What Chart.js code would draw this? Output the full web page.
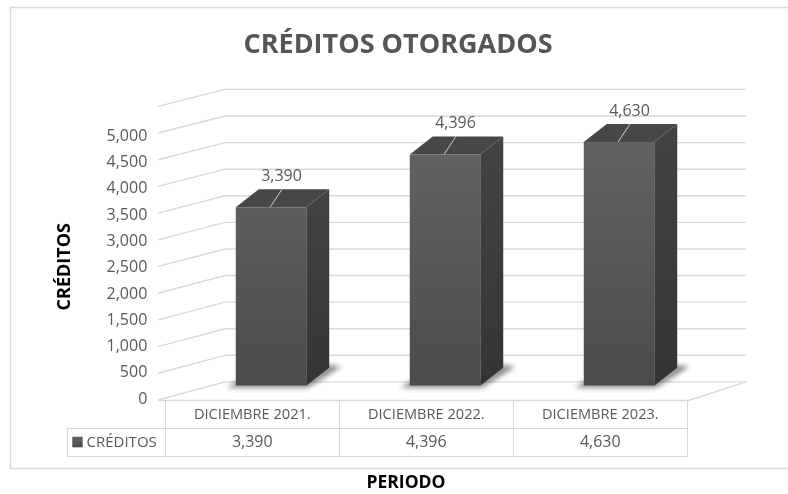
<!DOCTYPE html>
<html>
<head>
<meta charset="utf-8">
<script src="https://cdn.jsdelivr.net/npm/chart.js@4.4.0/dist/chart.umd.min.js"></script>
<style>
html,body{margin:0;padding:0;background:#ffffff;}
#wrap{width:788px;height:494px;position:relative;}
</style>
</head>
<body>
<div id="wrap"><canvas id="c" width="788" height="494"></canvas></div>
<script>
// ---- data ----
const categories = ['DICIEMBRE 2021.', 'DICIEMBRE 2022.', 'DICIEMBRE 2023.'];
const creditos = [3390, 4396, 4630];
const seriesName = 'CRÉDITOS';
const chartTitle = 'CRÉDITOS OTORGADOS';
const yAxisTitle = 'CRÉDITOS';
const xAxisTitle = 'PERIODO';
const yMin = 0, yMax = 5500, yStep = 500, yLastLabel = 5000;

// ---- style ----
const FONT = "'Open Sans', 'Noto Sans', sans-serif";
const TEXT = '#595959';
const LINE = '#d9d9d9';
const BAR_DX = 23, BAR_DY = -18;      // depth of bars
const WALL_FRONT_X = 158, WALL_BACK_X = 225, WALL_RIGHT_X = 746;
const TABLE_SHIFT = -18.7;            // table columns vs bar front faces
const ROW1_TOP = 400, ROW2_TOP = 427.7, TABLE_BOTTOM = 456, LEGEND_LEFT = 66.7;

const fmt = v => Number(v).toLocaleString('en-US');

function frontEdgeY(ys, v){ return ys.getPixelForValue(v) + 14.3 - v / 5000 * 3.9; }
function backWallY(ys, v){ return ys.getPixelForValue(v) - 3.8 - v / 5000 * 2.8; }

function line(ctx, x1, y1, x2, y2){ ctx.beginPath(); ctx.moveTo(x1, y1); ctx.lineTo(x2, y2); ctx.stroke(); }
function poly(ctx, pts){ ctx.beginPath(); ctx.moveTo(pts[0][0], pts[0][1]); for (let i = 1; i < pts.length; i++) ctx.lineTo(pts[i][0], pts[i][1]); ctx.closePath(); }

const scene3d = {
  id: 'scene3d',
  beforeDatasetsDraw(chart){
    const ctx = chart.ctx, ys = chart.scales.y;
    ctx.save();
    // back wall + side wall gridlines
    ctx.strokeStyle = LINE; ctx.lineWidth = 1.4;
    ys.ticks.forEach(t => {
      const v = t.value;
      const by = backWallY(ys, v), fy = frontEdgeY(ys, v);
      line(ctx, WALL_BACK_X, by, WALL_RIGHT_X, by);
      line(ctx, WALL_FRONT_X, fy, WALL_BACK_X, by);
    });
    // floor right edge
    const fy0 = frontEdgeY(ys, 0), by0 = backWallY(ys, 0);
    line(ctx, 690, fy0, WALL_RIGHT_X, by0);
    line(ctx, WALL_FRONT_X, fy0 + 0.5, 690, fy0 + 0.5);

    const meta = chart.getDatasetMeta(0);
    meta.data.forEach(el => {
      const p = el.getProps(['x', 'y', 'base', 'width'], true);
      const l = p.x - p.width / 2, r = p.x + p.width / 2, top = p.y, base = p.base;
      // floor shadow
      ctx.save();
      ctx.filter = 'blur(2.5px)';
      ctx.fillStyle = 'rgba(0,0,0,0.45)';
      poly(ctx, [[l - 9, base + 2], [r + 2, base + 2], [r + BAR_DX + 12, base + BAR_DY - 1], [r + BAR_DX, base + BAR_DY - 3], [r, base - 4], [l, base - 4]]);
      ctx.fill();
      ctx.restore();
      // side face
      const gs = ctx.createLinearGradient(0, top, 0, base);
      gs.addColorStop(0, '#424242'); gs.addColorStop(1, '#343434');
      ctx.fillStyle = gs;
      poly(ctx, [[r, top], [r + BAR_DX, top + BAR_DY], [r + BAR_DX, base + BAR_DY], [r, base]]);
      ctx.fill();
      // top face
      ctx.fillStyle = '#474747';
      poly(ctx, [[l, top], [l + BAR_DX, top + BAR_DY], [r + BAR_DX, top + BAR_DY], [r, top]]);
      ctx.fill();
    });
    ctx.restore();
  },
  afterDatasetsDraw(chart){
    const ctx = chart.ctx;
    const meta = chart.getDatasetMeta(0);
    ctx.save();
    meta.data.forEach((el, i) => {
      const p = el.getProps(['x', 'y'], true);
      ctx.strokeStyle = '#d0d0d0'; ctx.lineWidth = 1;
      line(ctx, p.x + 11, p.y - 18, p.x - 1, p.y);
      ctx.fillStyle = TEXT;
      ctx.font = '16px ' + FONT;
      ctx.textAlign = 'center'; ctx.textBaseline = 'middle';
      ctx.fillText(fmt(creditos[i]), p.x + 10.5, p.y - 31);
    });
    ctx.restore();
  },
  afterDraw(chart){
    const ctx = chart.ctx, xs = chart.scales.x;
    ctx.save();
    // data table
    const colW = (xs.right - xs.left) / categories.length;
    const cx = i => xs.getPixelForValue(i) + TABLE_SHIFT;
    const tl = cx(0) - colW / 2, tr = cx(categories.length - 1) + colW / 2;
    ctx.strokeStyle = LINE; ctx.lineWidth = 1;
    const hl = (x1, x2, y) => line(ctx, x1, Math.round(y) + 0.5, x2, Math.round(y) + 0.5);
    const vl = (x, y1, y2) => line(ctx, Math.round(x) + 0.5, y1, Math.round(x) + 0.5, y2);
    hl(tl, tr, ROW1_TOP);
    hl(LEGEND_LEFT, tr, ROW2_TOP);
    hl(LEGEND_LEFT, tr, TABLE_BOTTOM);
    vl(LEGEND_LEFT, ROW2_TOP, TABLE_BOTTOM + 0.5);
    for (let i = 0; i <= categories.length; i++) vl(tl + i * colW, ROW1_TOP, TABLE_BOTTOM + 0.5);
    ctx.fillStyle = TEXT; ctx.textAlign = 'center'; ctx.textBaseline = 'middle';
    categories.forEach((c, i) => {
      ctx.font = '14.6px ' + FONT;
      ctx.fillText(c, cx(i), (ROW1_TOP + ROW2_TOP) / 2 + 0.5);
      ctx.font = '16px ' + FONT;
      ctx.fillText(fmt(creditos[i]), cx(i), (ROW2_TOP + TABLE_BOTTOM) / 2 + 0.5);
    });
    // legend key
    const kg = ctx.createLinearGradient(0, 436.7, 0, 447.3);
    kg.addColorStop(0, '#666666'); kg.addColorStop(1, '#4a4a4a');
    ctx.fillStyle = kg;
    ctx.fillRect(72.3, 436.7, 10.4, 10.6);
    ctx.fillStyle = TEXT; ctx.textAlign = 'left'; ctx.font = '15px ' + FONT;
    ctx.fillText(seriesName, 86.5, (ROW2_TOP + TABLE_BOTTOM) / 2 + 0.5);
    // frame
    ctx.strokeStyle = LINE; ctx.lineWidth = 1.5;
    ctx.beginPath();
    ctx.moveTo(800, 7.5); ctx.lineTo(10.5, 7.5); ctx.lineTo(10.5, 468.5); ctx.lineTo(800, 468.5);
    ctx.stroke();
    // chart title
    ctx.fillStyle = '#555555';
    ctx.font = 'bold 27px ' + FONT;
    ctx.textAlign = 'center'; ctx.textBaseline = 'alphabetic';
    ctx.fillText(chartTitle, 398, 52.7);
    // axis titles
    ctx.fillStyle = '#000000';
    ctx.font = 'bold 18px ' + FONT;
    ctx.textBaseline = 'middle';
    ctx.save();
    ctx.translate(65, 266.7);
    ctx.rotate(-Math.PI / 2);
    ctx.fillText(yAxisTitle, 0, 0);
    ctx.restore();
    ctx.font = 'bold 17.5px ' + FONT;
    ctx.fillText(xAxisTitle, 406, 483.5);
    ctx.restore();
  }
};

const ctxEl = document.getElementById('c');
new Chart(ctxEl, {
  type: 'bar',
  data: {
    labels: categories,
    datasets: [{
      label: seriesName,
      data: creditos,
      backgroundColor(context){
        const ca = context.chart.chartArea;
        if (!ca) return '#595959';
        const g = context.chart.ctx.createLinearGradient(0, ca.top, 0, ca.bottom);
        g.addColorStop(0, '#676767');
        g.addColorStop(1, '#4b4b4b');
        return g;
      },
      borderWidth: 0,
      barPercentage: 0.405,
      categoryPercentage: 1.0
    }]
  },
  options: {
    responsive: false,
    animation: false,
    devicePixelRatio: 1,
    layout: { padding: { top: 96.3, bottom: 108.3, left: 0, right: 82 } },
    plugins: { legend: { display: false }, title: { display: false }, tooltip: { enabled: false } },
    scales: {
      x: { display: false },
      y: {
        min: yMin, max: yMax,
        afterFit(scale){ scale.width = 184; },
        grid: { display: false, drawTicks: false },
        border: { display: false },
        ticks: {
          stepSize: yStep,
          padding: 36.7,
          labelOffset: 13.5,
          color: TEXT,
          font: { family: FONT, size: 16 },
          callback(v){ return v > yLastLabel ? '' : fmt(v); }
        }
      }
    }
  },
  plugins: [scene3d]
});
</script>
</body>
</html>
